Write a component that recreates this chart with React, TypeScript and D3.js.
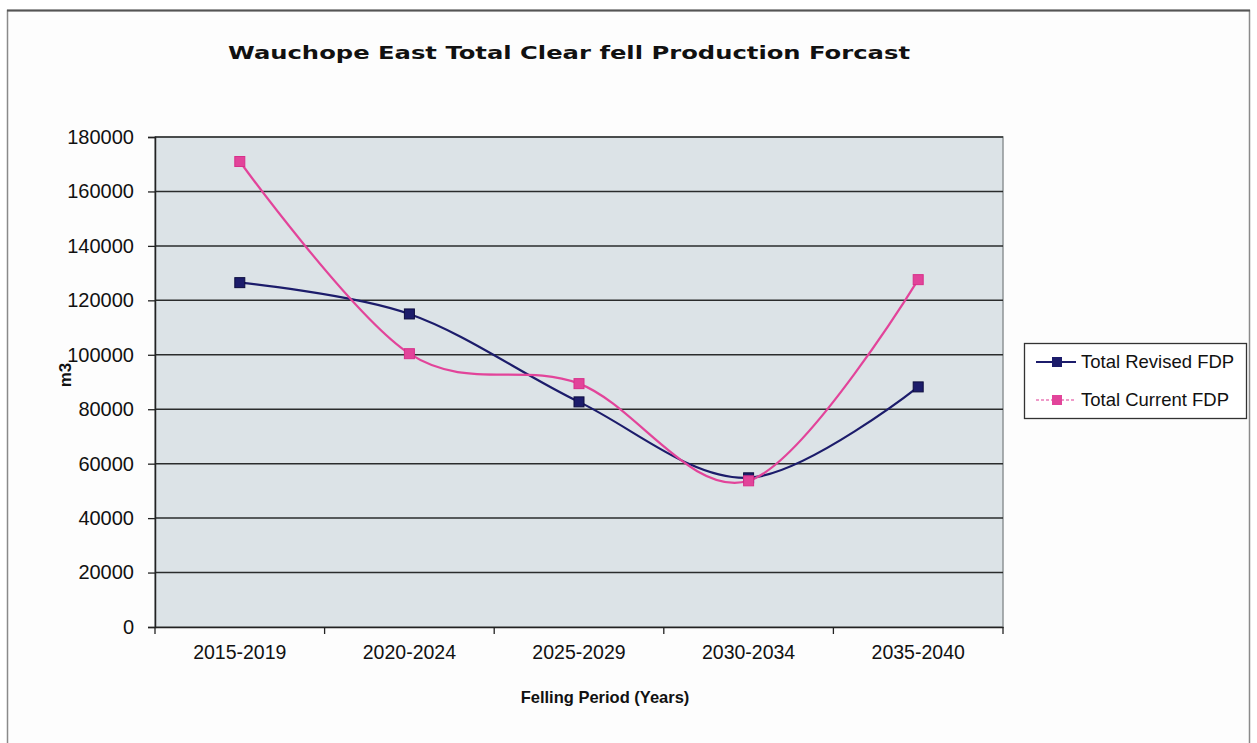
import React, { useEffect, useRef } from "react";
import * as d3 from "d3";

const categories = ["2015-2019", "2020-2024", "2025-2029", "2030-2034", "2035-2040"];
const revisedValues = [126500, 115000, 82700, 54800, 88200];
const currentValues = [171000, 100400, 89400, 53700, 127600];
const yTicks = [0, 20000, 40000, 60000, 80000, 100000, 120000, 140000, 160000, 180000];
const seriesNames = ["Total Revised FDP", "Total Current FDP"];
const seriesColors = ["#1c1c6b", "#e2449a"];

const W = 1257;
const H = 743;
const M = { left: 155, right: 1003, top: 137, bottom: 627 };

export default function App() {
  const ref = useRef<SVGSVGElement | null>(null);

  useEffect(() => {
    const svg = d3.select(ref.current);
    svg.selectAll("*").remove();

    const x = d3.scaleBand<string>().domain(categories).range([M.left, M.right]);
    const y = d3.scaleLinear().domain([0, 180000]).range([M.bottom, M.top]);
    const cx = (c: string) => (x(c) as number) + x.bandwidth() / 2;

    // background and outer frame
    svg.append("rect").attr("x", 0).attr("y", 0).attr("width", W).attr("height", H).attr("fill", "#ffffff");
    svg.append("rect").attr("x", 7.5).attr("y", 10.5).attr("width", 1242).attr("height", 760)
      .attr("fill", "#fdfdfd").attr("stroke", "#8a8a8a").attr("stroke-width", 1.5);
    svg.append("line").attr("x1", 7).attr("x2", 1250).attr("y1", 10.5).attr("y2", 10.5)
      .attr("stroke", "#555").attr("stroke-width", 2);

    // title
    svg.append("text").attr("x", 228).attr("y", 59)
      .attr("font-family", "'DejaVu Sans', sans-serif").attr("font-weight", "bold")
      .attr("font-size", 18.5).attr("textLength", 682).attr("lengthAdjust", "spacingAndGlyphs")
      .attr("fill", "#111").text("Wauchope East Total Clear fell Production Forcast");

    // plot area
    svg.append("rect").attr("x", M.left).attr("y", M.top).attr("width", M.right - M.left)
      .attr("height", M.bottom - M.top).attr("fill", "#dce3e7").attr("stroke", "#8f9496").attr("stroke-width", 1.5);

    // gridlines
    svg.append("g").selectAll("line").data(yTicks.filter((t) => t > 0)).join("line")
      .attr("x1", M.left).attr("x2", M.right)
      .attr("y1", (d) => y(d)).attr("y2", (d) => y(d))
      .attr("stroke", "#2a2c2c").attr("stroke-width", 1.5);

    // y axis
    const yAxis = svg.append("g").attr("transform", `translate(${M.left},0)`)
      .call(d3.axisLeft(y).tickValues(yTicks).tickSize(7).tickPadding(14).tickFormat((d) => String(d)));
    yAxis.select(".domain").attr("stroke", "#222").attr("stroke-width", 1.5);
    yAxis.selectAll(".tick line").attr("stroke", "#222").attr("stroke-width", 1.3);
    yAxis.selectAll("text").attr("font-family", "'Liberation Sans', Arial, sans-serif")
      .attr("font-size", 20).attr("fill", "#111");

    // x axis
    const xAxis = svg.append("g").attr("transform", `translate(0,${M.bottom})`)
      .call(d3.axisBottom(x).tickSize(0).tickPadding(0));
    xAxis.select(".domain").attr("stroke", "#222").attr("stroke-width", 1.5);
    xAxis.selectAll(".tick text").remove();
    const bounds = categories.map((c) => x(c) as number).concat([M.right]);
    svg.append("g").selectAll("line").data(bounds).join("line")
      .attr("x1", (d) => d).attr("x2", (d) => d)
      .attr("y1", M.bottom).attr("y2", M.bottom + 7)
      .attr("stroke", "#222").attr("stroke-width", 1.3);
    svg.append("g").selectAll("text").data(categories).join("text")
      .attr("x", (d) => cx(d)).attr("y", 659).attr("text-anchor", "middle")
      .attr("font-family", "'Liberation Sans', Arial, sans-serif").attr("font-size", 19.5)
      .attr("fill", "#111").text((d) => d);

    // axis titles
    svg.append("text").attr("transform", "translate(71,375) rotate(-90)").attr("text-anchor", "middle")
      .attr("font-family", "'Liberation Sans', Arial, sans-serif").attr("font-weight", "bold")
      .attr("font-size", 17).attr("fill", "#111").text("m3");
    svg.append("text").attr("x", 605).attr("y", 703).attr("text-anchor", "middle")
      .attr("font-family", "'Liberation Sans', Arial, sans-serif").attr("font-weight", "bold")
      .attr("font-size", 16.5).attr("fill", "#111").text("Felling Period (Years)");

    // lines
    const series = [revisedValues, currentValues];
    const line = d3.line<number>()
      .x((_, i) => cx(categories[i]))
      .y((d) => y(d))
      .curve(d3.curveCatmullRom.alpha(0));
    series.forEach((vals, si) => {
      svg.append("path").datum(vals).attr("d", line).attr("fill", "none")
        .attr("stroke", seriesColors[si]).attr("stroke-width", 2.2);
    });
    series.forEach((vals, si) => {
      svg.append("g").selectAll("rect").data(vals).join("rect")
        .attr("x", (_, i) => cx(categories[i]) - 5).attr("y", (d) => y(d) - 5)
        .attr("width", 10).attr("height", 10)
        .attr("fill", seriesColors[si]).attr("stroke", si === 0 ? "#0d0d40" : "#d8308a").attr("stroke-width", 1);
    });

    // legend
    const lg = svg.append("g");
    lg.append("rect").attr("x", 1024.5).attr("y", 343.5).attr("width", 222).attr("height", 75)
      .attr("fill", "#ffffff").attr("stroke", "#333").attr("stroke-width", 1.3);
    seriesNames.forEach((name, i) => {
      const ly = 362 + i * 38;
      lg.append("line").attr("x1", 1036).attr("x2", 1076).attr("y1", ly).attr("y2", ly)
        .attr("stroke", seriesColors[i]).attr("stroke-width", i === 0 ? 2 : 1.3)
        .attr("stroke-dasharray", i === 0 ? null : "3,2").attr("opacity", i === 0 ? 1 : 0.7);
      lg.append("rect").attr("x", 1052).attr("y", ly - 5).attr("width", 10).attr("height", 10)
        .attr("fill", seriesColors[i]);
      lg.append("text").attr("x", 1081).attr("y", ly + 6)
        .attr("font-family", "'Liberation Sans', Arial, sans-serif").attr("font-size", 18.5)
        .attr("fill", "#111").text(name);
    });
  }, []);

  return (
    <svg ref={ref} width={W} height={H}
      style={{ position: "absolute", left: 0, top: 0, display: "block" }} />
  );
}
